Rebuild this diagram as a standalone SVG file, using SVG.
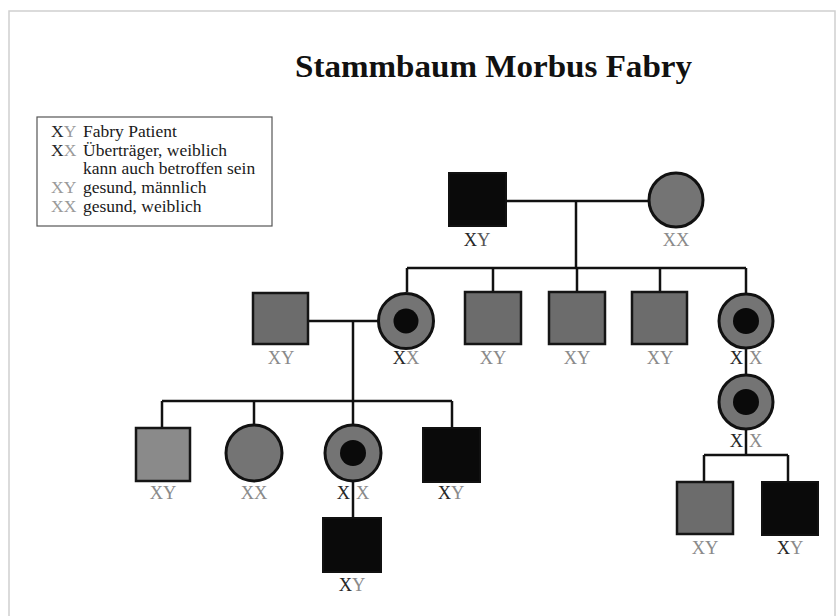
<svg xmlns="http://www.w3.org/2000/svg" width="836" height="616" viewBox="0 0 836 616">
<style>
text{font-family:"Liberation Serif","Times New Roman",serif}
.t{font-size:31px;font-weight:bold;fill:#111}
.lg{font-size:17.5px;fill:#1a1a1a}
.lb{font-size:18.5px}
.d{fill:#262626}
.g{fill:#8a8a8a}
.lg .g{fill:#9a9a9a}
.ln{stroke:#111;stroke-width:2.5;fill:none}
.aff{fill:#0a0a0a;stroke:#111;stroke-width:2}
.sq{fill:#6c6c6c;stroke:#151515;stroke-width:2.5}
.sql{fill:#8a8a8a;stroke:#151515;stroke-width:2.5}
.ci{fill:#747474;stroke:#111;stroke-width:3}
.dot{fill:#0a0a0a}
</style>
<rect x="9" y="11" width="826" height="620" fill="#fff" stroke="#cfcfcf" stroke-width="1.5"/>
<text class="t" x="493.5" y="77" text-anchor="middle" textLength="397" lengthAdjust="spacingAndGlyphs">Stammbaum Morbus Fabry</text>
<g id="legend">
<rect x="37" y="117" width="235" height="109" fill="#fff" stroke="#555" stroke-width="1.2"/>
<g class="lg">
<text x="51" y="137"><tspan class="d">X</tspan><tspan class="g">Y</tspan></text>
<text x="83" y="137">Fabry Patient</text>
<text x="51" y="156"><tspan class="d">X</tspan><tspan class="g">X</tspan></text>
<text x="83" y="156">Überträger, weiblich</text>
<text x="83" y="174">kann auch betroffen sein</text>
<text x="51" y="193"><tspan class="g">XY</tspan></text>
<text x="83" y="193">gesund, männlich</text>
<text x="51" y="212"><tspan class="g">XX</tspan></text>
<text x="83" y="212">gesund, weiblich</text>
</g>
</g>
<g id="connectors" class="ln">
<line x1="506" y1="201" x2="648" y2="201"/>
<line x1="576" y1="201" x2="576" y2="268"/>
<line x1="407" y1="268" x2="746" y2="268"/>
<line x1="407" y1="268" x2="407" y2="292"/>
<line x1="493" y1="268" x2="493" y2="292"/>
<line x1="577" y1="268" x2="577" y2="292"/>
<line x1="660" y1="268" x2="660" y2="292"/>
<line x1="746" y1="268" x2="746" y2="294"/>
<line x1="308" y1="321" x2="378" y2="321"/>
<line x1="353" y1="321" x2="353" y2="401"/>
<line x1="162" y1="401" x2="452" y2="401"/>
<line x1="162" y1="401" x2="162" y2="428"/>
<line x1="254" y1="401" x2="254" y2="425"/>
<line x1="353" y1="401" x2="353" y2="518"/>
<line x1="452" y1="401" x2="452" y2="428"/>
<line x1="746" y1="348" x2="746" y2="375"/>
<line x1="746" y1="428" x2="746" y2="455"/>
<line x1="704" y1="455" x2="788" y2="455"/>
<line x1="704" y1="455" x2="704" y2="482"/>
<line x1="788" y1="455" x2="788" y2="482"/>
</g>
<g id="n-grandfather">
<rect class="aff" x="449" y="173" width="57" height="53"/>
<text class="lb" x="477" y="246" text-anchor="middle"><tspan class="d">X</tspan><tspan fill="#555">Y</tspan></text>
</g>
<g id="n-grandmother">
<circle class="ci" cx="676" cy="200" r="27"/>
<text class="lb g" x="676" y="246" text-anchor="middle">XX</text>
</g>
<g id="n-inlaw">
<rect class="sq" x="253" y="293" width="55" height="51"/>
<text class="lb g" x="281" y="364" text-anchor="middle">XY</text>
</g>
<g id="n-daughter1">
<circle class="ci" cx="406" cy="321" r="27.5"/>
<circle class="dot" cx="406" cy="321" r="12.5"/>
<text class="lb" x="406" y="364" text-anchor="middle"><tspan class="d">X</tspan><tspan class="g">X</tspan></text>
</g>
<g id="n-son1">
<rect class="sq" x="465" y="292" width="56" height="52"/>
<text class="lb g" x="493" y="364" text-anchor="middle">XY</text>
</g>
<g id="n-son2">
<rect class="sq" x="549" y="292" width="56" height="52"/>
<text class="lb g" x="577" y="364" text-anchor="middle">XY</text>
</g>
<g id="n-son3">
<rect class="sq" x="632" y="292" width="55" height="52"/>
<text class="lb g" x="660" y="364" text-anchor="middle">XY</text>
</g>
<g id="n-daughter2">
<circle class="ci" cx="746" cy="321" r="27"/>
<circle class="dot" cx="746" cy="321" r="13"/>
<text class="lb d" x="743" y="364" text-anchor="end">X</text>
<text class="lb g" x="749" y="364">X</text>
</g>
<g id="n-granddaughter-r">
<circle class="ci" cx="746" cy="402" r="27"/>
<circle class="dot" cx="746" cy="402" r="13"/>
<text class="lb d" x="743" y="447" text-anchor="end">X</text>
<text class="lb g" x="749" y="447">X</text>
</g>
<g id="n-gg-son1">
<rect class="sq" x="677" y="482" width="56" height="52"/>
<text class="lb g" x="705" y="554" text-anchor="middle">XY</text>
</g>
<g id="n-gg-son2">
<rect class="aff" x="762" y="482" width="56" height="53"/>
<text class="lb" x="790" y="554" text-anchor="middle"><tspan class="d">X</tspan><tspan class="g">Y</tspan></text>
</g>
<g id="n-grandson1">
<rect class="sql" x="136" y="428" width="54" height="53"/>
<text class="lb g" x="163" y="499" text-anchor="middle">XY</text>
</g>
<g id="n-granddaughter1">
<circle class="ci" cx="254" cy="453" r="28"/>
<text class="lb g" x="254" y="499" text-anchor="middle">XX</text>
</g>
<g id="n-granddaughter2">
<circle class="ci" cx="353" cy="453" r="28"/>
<circle class="dot" cx="353" cy="453" r="13"/>
<text class="lb d" x="350" y="499" text-anchor="end">X</text>
<text class="lb g" x="356" y="499">X</text>
</g>
<g id="n-grandson2">
<rect class="aff" x="423" y="428" width="57" height="54"/>
<text class="lb" x="451" y="499" text-anchor="middle"><tspan class="d">X</tspan><tspan class="g">Y</tspan></text>
</g>
<g id="n-ggson">
<rect class="aff" x="323" y="518" width="58" height="54"/>
<text class="lb" x="352" y="591" text-anchor="middle"><tspan class="d">X</tspan><tspan class="g">Y</tspan></text>
</g>
</svg>
